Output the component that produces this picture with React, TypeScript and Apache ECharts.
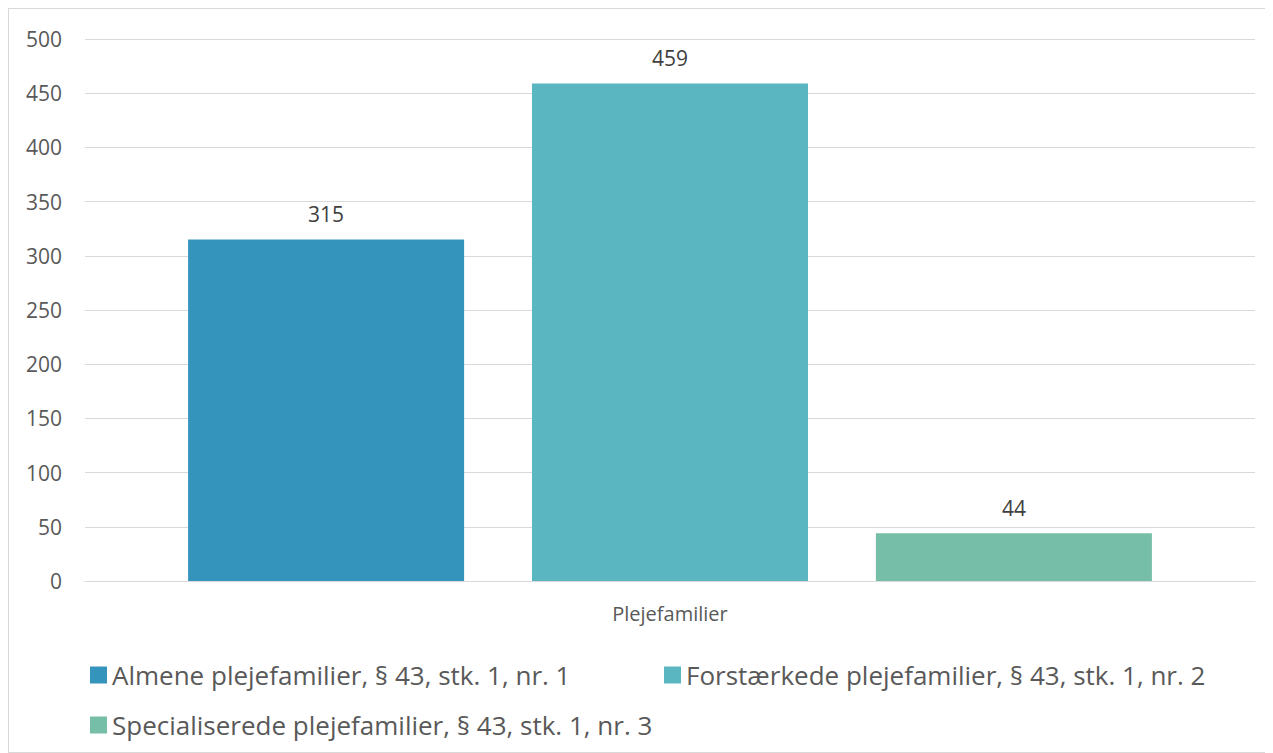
import React, { useEffect, useRef } from "react";
import * as echarts from "echarts";

const categories = ["Plejefamilier"];
const seriesNames = [
  "Almene plejefamilier, § 43, stk. 1, nr. 1",
  "Forstærkede plejefamilier, § 43, stk. 1, nr. 2",
  "Specialiserede plejefamilier, § 43, stk. 1, nr. 3",
];
const almene = [315];
const forstaerkede = [459];
const specialiserede = [44];
const seriesValues = [almene, forstaerkede, specialiserede];
const colors = ["#3594BB", "#5AB6C0", "#76BEA7"];
const yTicks = { min: 0, max: 500, interval: 50 };

const FONT = "'Open Sans', 'Noto Sans', sans-serif";

const legendText = { fontSize: 26, color: "#595959", fontFamily: FONT };

export default function App() {
  const ref = useRef<HTMLDivElement>(null);
  useEffect(() => {
    if (!ref.current) return;
    const chart = echarts.init(ref.current, undefined, { renderer: "svg" });
    chart.setOption({
      animation: false,
      textStyle: { fontFamily: FONT },
      grid: { left: 76, right: 17, top: 30, bottom: 171 },
      legend: [
        {
          data: [seriesNames[0]],
          left: 76,
          top: 648,
          itemWidth: 17,
          itemHeight: 17,
          icon: "rect",
          textStyle: legendText,
        },
        {
          data: [seriesNames[1]],
          left: 650,
          top: 648,
          itemWidth: 17,
          itemHeight: 17,
          icon: "rect",
          textStyle: legendText,
        },
        {
          data: [seriesNames[2]],
          left: 76,
          top: 698,
          itemWidth: 17,
          itemHeight: 17,
          icon: "rect",
          textStyle: legendText,
        },
      ],
      xAxis: {
        type: "category",
        data: categories,
        axisLine: { lineStyle: { color: "#D9D9D9", width: 1 } },
        axisTick: { show: false },
        axisLabel: { color: "#595959", fontSize: 20, margin: 22, fontFamily: FONT },
      },
      yAxis: {
        type: "value",
        min: yTicks.min,
        max: yTicks.max,
        interval: yTicks.interval,
        axisLine: { show: false },
        axisTick: { show: false },
        splitLine: { lineStyle: { color: "#D9D9D9", width: 1 } },
        axisLabel: { color: "#595959", fontSize: 21, margin: 23, fontFamily: FONT },
      },
      series: seriesNames.map((name, i) => ({
        name,
        type: "bar",
        data: seriesValues[i],
        barWidth: 276,
        barGap: "24.6%",
        itemStyle: { color: colors[i] },
        label: {
          show: true,
          position: "top",
          distance: 15,
          color: "#404040",
          fontSize: 21,
          fontFamily: FONT,
        },
      })),
    });
    return () => chart.dispose();
  }, []);
  return (
    <div
      style={{
        width: 1265,
        height: 745,
        border: "1px solid #D9D9D9",
        boxSizing: "border-box",
        background: "#fff",
      }}
    >
      <div ref={ref} style={{ width: 1263, height: 743 }} />
    </div>
  );
}
